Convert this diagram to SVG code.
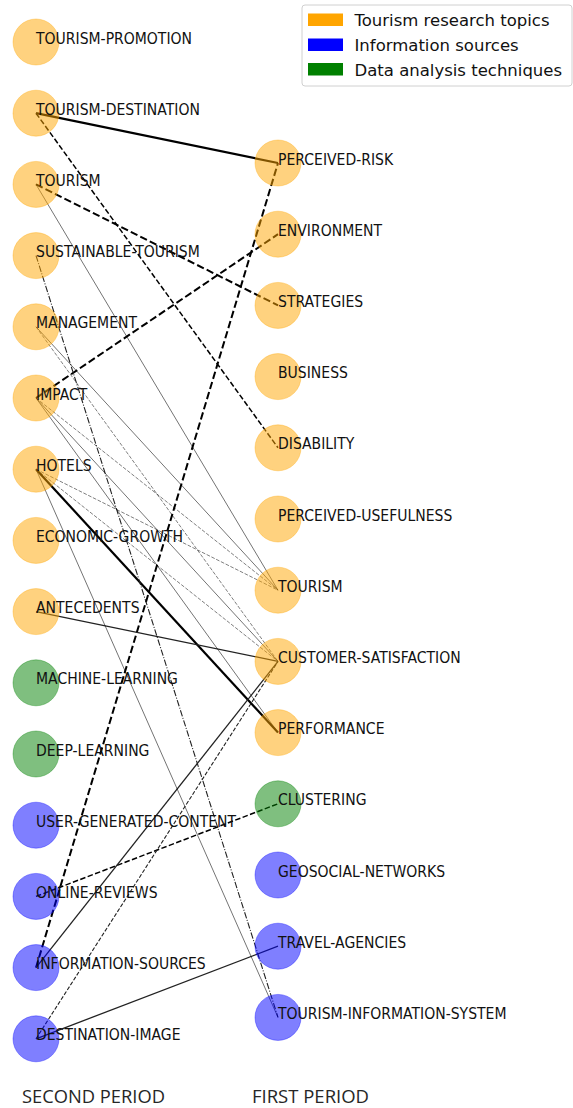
<svg xmlns="http://www.w3.org/2000/svg" width="573" height="1108" viewBox="0 0 573 1108">
<style>
  .lbl { font-family: "DejaVu Sans", sans-serif; font-size: 14px; fill: #111; }
  .leg { font-family: "DejaVu Sans", sans-serif; font-size: 16.5px; fill: #111; }
  .period { font-family: "Open Sans", "Liberation Sans", sans-serif; font-size: 19px; fill: #262626; }
  .topic { fill: #FFA500; fill-opacity: 0.5; stroke: #FFA500; stroke-opacity: 0.35; stroke-width: 1; }
  .info { fill: #0000FF; fill-opacity: 0.5; stroke: #0000FF; stroke-opacity: 0.35; stroke-width: 1; }
  .tech { fill: #008000; fill-opacity: 0.5; stroke: #008000; stroke-opacity: 0.35; stroke-width: 1; }
  line { fill: none; }
  .e-thick { stroke: #000; stroke-width: 2.2; }
  .e-thickdash { stroke: #000; stroke-width: 2; stroke-dasharray: 7.4 3.2; }
  .e-meddash { stroke: #000; stroke-width: 1.5; stroke-dasharray: 5.5 2.4; }
  .e-thindash { stroke: #222; stroke-width: 1.1; stroke-dasharray: 4 1.8; }
  .e-med { stroke: #222; stroke-width: 1.3; }
  .e-dashdot { stroke: #222; stroke-width: 1.1; stroke-dasharray: 6.4 1.6 1 1.6; }
  .e-gray { stroke: #000; stroke-opacity: 0.55; stroke-width: 1; }
  .e-graydash { stroke: #000; stroke-opacity: 0.5; stroke-width: 1; stroke-dasharray: 3.7 1.6; }
</style>

<g id="connectors">
  <line class="e-thick" x1="36" y1="113.2" x2="278" y2="163"/>
  <line class="e-thick" x1="36" y1="469.2" x2="278" y2="732.6"/>
  <line class="e-thickdash" x1="36" y1="184.4" x2="278" y2="305.4"/>
  <line class="e-thickdash" x1="36" y1="398" x2="278" y2="234.2"/>
  <line class="e-thickdash" x1="36" y1="967.6" x2="278" y2="163"/>
  <line class="e-meddash" x1="36" y1="113.2" x2="278" y2="447.8"/>
  <line class="e-meddash" x1="36" y1="896.4" x2="278" y2="803.8"/>
  <line class="e-thindash" x1="36" y1="1038.8" x2="278" y2="661.4"/>
  <line class="e-med" x1="36" y1="611.6" x2="278" y2="661.4"/>
  <line class="e-med" x1="36" y1="967.6" x2="278" y2="661.4"/>
  <line class="e-med" x1="36" y1="1038.8" x2="278" y2="946.2"/>
  <line class="e-dashdot" x1="36" y1="255.6" x2="278" y2="1017.4"/>
  <line class="e-gray" x1="36" y1="184.4" x2="278" y2="590.2"/>
  <line class="e-gray" x1="36" y1="326.8" x2="278" y2="590.2"/>
  <line class="e-gray" x1="36" y1="398" x2="278" y2="661.4"/>
  <line class="e-gray" x1="36" y1="398" x2="278" y2="732.6"/>
  <line class="e-gray" x1="36" y1="469.2" x2="278" y2="1017.4"/>
  <line class="e-graydash" x1="36" y1="326.8" x2="278" y2="661.4"/>
  <line class="e-graydash" x1="36" y1="398" x2="278" y2="590.2"/>
  <line class="e-graydash" x1="36" y1="469.2" x2="278" y2="590.2"/>
  <line class="e-graydash" x1="36" y1="469.2" x2="278" y2="661.4"/>
</g>

<!-- Second period (left column) -->
<g id="s-tourism-promotion"><circle class="topic" cx="36" cy="42" r="23"/><text class="lbl" transform="translate(36 43.5) scale(1 1.1)">TOURISM-PROMOTION</text></g>
<g id="s-tourism-destination"><circle class="topic" cx="36" cy="113.2" r="23"/><text class="lbl" transform="translate(36 114.7) scale(1 1.1)">TOURISM-DESTINATION</text></g>
<g id="s-tourism"><circle class="topic" cx="36" cy="184.4" r="23"/><text class="lbl" transform="translate(36 185.9) scale(1 1.1)">TOURISM</text></g>
<g id="s-sustainable-tourism"><circle class="topic" cx="36" cy="255.6" r="23"/><text class="lbl" transform="translate(36 257.1) scale(1 1.1)">SUSTAINABLE-TOURISM</text></g>
<g id="s-management"><circle class="topic" cx="36" cy="326.8" r="23"/><text class="lbl" transform="translate(36 328.3) scale(1 1.1)">MANAGEMENT</text></g>
<g id="s-impact"><circle class="topic" cx="36" cy="398" r="23"/><text class="lbl" transform="translate(36 399.5) scale(1 1.1)">IMPACT</text></g>
<g id="s-hotels"><circle class="topic" cx="36" cy="469.2" r="23"/><text class="lbl" transform="translate(36 470.7) scale(1 1.1)">HOTELS</text></g>
<g id="s-economic-growth"><circle class="topic" cx="36" cy="540.4" r="23"/><text class="lbl" transform="translate(36 541.9) scale(1 1.1)">ECONOMIC-GROWTH</text></g>
<g id="s-antecedents"><circle class="topic" cx="36" cy="611.6" r="23"/><text class="lbl" transform="translate(36 613.1) scale(1 1.1)">ANTECEDENTS</text></g>
<g id="s-machine-learning"><circle class="tech" cx="36" cy="682.8" r="23"/><text class="lbl" transform="translate(36 684.3) scale(1 1.1)">MACHINE-LEARNING</text></g>
<g id="s-deep-learning"><circle class="tech" cx="36" cy="754" r="23"/><text class="lbl" transform="translate(36 755.5) scale(1 1.1)">DEEP-LEARNING</text></g>
<g id="s-user-generated-content"><circle class="info" cx="36" cy="825.2" r="23"/><text class="lbl" transform="translate(36 826.7) scale(1 1.1)">USER-GENERATED-CONTENT</text></g>
<g id="s-online-reviews"><circle class="info" cx="36" cy="896.4" r="23"/><text class="lbl" transform="translate(36 897.9) scale(1 1.1)">ONLINE-REVIEWS</text></g>
<g id="s-information-sources"><circle class="info" cx="36" cy="967.6" r="23"/><text class="lbl" transform="translate(36 969.1) scale(1 1.1)">INFORMATION-SOURCES</text></g>
<g id="s-destination-image"><circle class="info" cx="36" cy="1038.8" r="23"/><text class="lbl" transform="translate(36 1040.3) scale(1 1.1)">DESTINATION-IMAGE</text></g>

<!-- First period (right column) -->
<g id="f-perceived-risk"><circle class="topic" cx="278" cy="163" r="23"/><text class="lbl" transform="translate(278 164.5) scale(1 1.1)">PERCEIVED-RISK</text></g>
<g id="f-environment"><circle class="topic" cx="278" cy="234.2" r="23"/><text class="lbl" transform="translate(278 235.7) scale(1 1.1)">ENVIRONMENT</text></g>
<g id="f-strategies"><circle class="topic" cx="278" cy="305.4" r="23"/><text class="lbl" transform="translate(278 306.9) scale(1 1.1)">STRATEGIES</text></g>
<g id="f-business"><circle class="topic" cx="278" cy="376.6" r="23"/><text class="lbl" transform="translate(278 378.1) scale(1 1.1)">BUSINESS</text></g>
<g id="f-disability"><circle class="topic" cx="278" cy="447.8" r="23"/><text class="lbl" transform="translate(278 449.3) scale(1 1.1)">DISABILITY</text></g>
<g id="f-perceived-usefulness"><circle class="topic" cx="278" cy="519" r="23"/><text class="lbl" transform="translate(278 520.5) scale(1 1.1)">PERCEIVED-USEFULNESS</text></g>
<g id="f-tourism"><circle class="topic" cx="278" cy="590.2" r="23"/><text class="lbl" transform="translate(278 591.7) scale(1 1.1)">TOURISM</text></g>
<g id="f-customer-satisfaction"><circle class="topic" cx="278" cy="661.4" r="23"/><text class="lbl" transform="translate(278 662.9) scale(1 1.1)">CUSTOMER-SATISFACTION</text></g>
<g id="f-performance"><circle class="topic" cx="278" cy="732.6" r="23"/><text class="lbl" transform="translate(278 734.1) scale(1 1.1)">PERFORMANCE</text></g>
<g id="f-clustering"><circle class="tech" cx="278" cy="803.8" r="23"/><text class="lbl" transform="translate(278 805.3) scale(1 1.1)">CLUSTERING</text></g>
<g id="f-geosocial-networks"><circle class="info" cx="278" cy="875" r="23"/><text class="lbl" transform="translate(278 876.5) scale(1 1.1)">GEOSOCIAL-NETWORKS</text></g>
<g id="f-travel-agencies"><circle class="info" cx="278" cy="946.2" r="23"/><text class="lbl" transform="translate(278 947.7) scale(1 1.1)">TRAVEL-AGENCIES</text></g>
<g id="f-tourism-information-system"><circle class="info" cx="278" cy="1017.4" r="23"/><text class="lbl" transform="translate(278 1018.9) scale(1 1.1)">TOURISM-INFORMATION-SYSTEM</text></g>

<!-- Legend -->
<g id="legend">
  <rect x="302" y="5" width="270" height="81" rx="3" fill="#fff" fill-opacity="0.9" stroke="#d0d0d0" stroke-width="1"/>
  <rect x="308" y="13.5" width="35" height="12.5" fill="#FFA500"/>
  <text class="leg" x="354.5" y="26">Tourism research topics</text>
  <rect x="308" y="38.5" width="35" height="12.5" fill="#0000FF"/>
  <text class="leg" x="354.5" y="51">Information sources</text>
  <rect x="308" y="63" width="35" height="12.5" fill="#008000"/>
  <text class="leg" x="354.5" y="75.5">Data analysis techniques</text>
</g>

<!-- Period titles -->
<text class="period" x="22" y="1103" textLength="143" lengthAdjust="spacingAndGlyphs">SECOND PERIOD</text>
<text class="period" x="252" y="1103" textLength="117" lengthAdjust="spacingAndGlyphs">FIRST PERIOD</text>
</svg>
